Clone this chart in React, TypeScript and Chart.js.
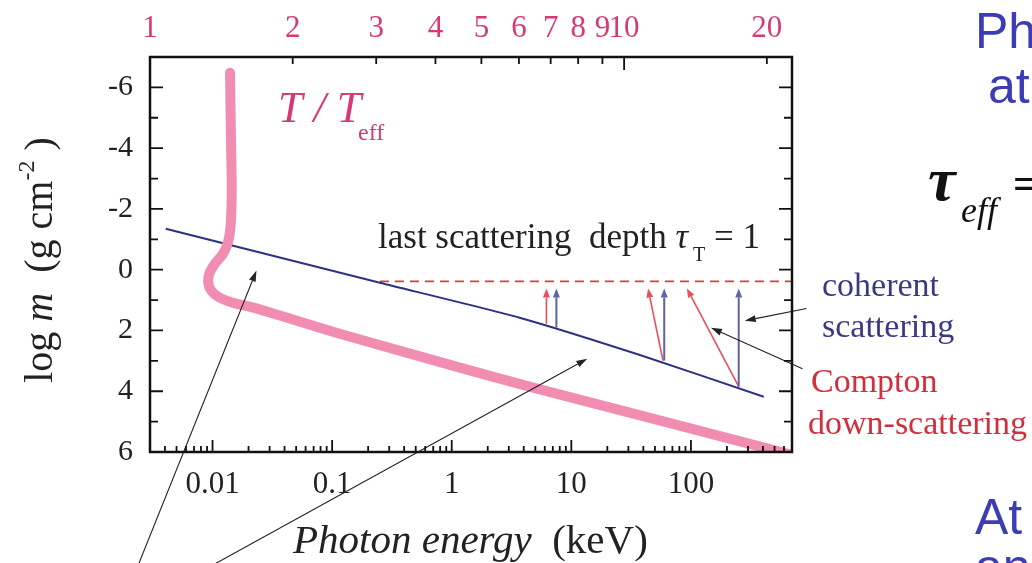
import { useEffect, useRef } from 'react';
import { Chart, registerables } from 'chart.js';

Chart.register(...registerables);

// ---- data ----
const energyTickValues = [0.01, 0.1, 1, 10, 100];
const energyTickLabels = ['0.01', '0.1', '1', '10', '100'];
const tempTickValues = [1, 2, 3, 4, 5, 6, 7, 8, 9, 10, 20];
const tempTickLabels = ['1', '2', '3', '4', '5', '6', '7', '8', '9', '10', '20'];
const depthTickValues = [-6, -4, -2, 0, 2, 4, 6];
const depthTickLabels = ['-6', '-4', '-2', '0', '2', '4', '6'];

// T/Teff profile (top axis) vs log m
const tempRatio = [1.475, 1.482, 1.487, 1.48, 1.463, 1.427, 1.371, 1.334, 1.327, 1.345, 1.395, 1.49, 1.652, 1.88, 2.43, 3.66, 6.43, 13.1, 22.9];
const tempLogM = [-6.48, -4.24, -2.6, -1.51, -0.95, -0.53, -0.2, 0.13, 0.43, 0.68, 0.9, 1.08, 1.25, 1.51, 2.04, 2.83, 3.88, 5.13, 6.12];

// last scattering depth (tau_T = 1)
const scatterEnergy = [0.00406, 0.251, 3.69, 36.9, 406];
const scatterLogM = [-1.35, 0.43, 1.58, 2.8, 4.18];

// dashed level
const levelEnergy = [0.251, 700];
const levelLogM = [0.385, 0.385];

// scattering arrows
const arrowKind = ['compton', 'coherent', 'compton', 'coherent', 'compton', 'coherent'];
const arrowFromE = [6.19, 7.5, 58.4, 59.8, 251, 251];
const arrowFromM = [1.78, 1.91, 2.99, 2.99, 3.85, 3.85];
const arrowToE = [6.19, 7.5, 43.8, 59.8, 92.6, 251];
const arrowToM = [0.62, 0.62, 0.62, 0.62, 0.62, 0.62];

// pointer lines (annotation arrows)
const pointerFromE = [0.00242, 0.0106, 926, 857];
const pointerFromM = [9.67, 9.67, 1.28, 3.26];
const pointerToE = [0.0233, 13.6, 282, 147];
const pointerToM = [0.03, 2.93, 1.68, 1.91];

const SERIF = '"Liberation Serif", "Times New Roman", serif';
const SANS = '"Liberation Sans", Arial, sans-serif';
const PINK = '#f28db2';
const MAGENTA = '#d63a75';
const NAVY = '#2e3180';

type Run = { t: string; font: string; dy?: number; color?: string };

function drawRuns(ctx: CanvasRenderingContext2D, runs: Run[], x: number, y: number, align: 'left' | 'center', color: string) {
  let w = 0;
  for (const r of runs) {
    ctx.font = r.font;
    w += ctx.measureText(r.t).width;
  }
  let cx = align === 'center' ? x - w / 2 : x;
  ctx.textAlign = 'left';
  ctx.textBaseline = 'alphabetic';
  for (const r of runs) {
    ctx.font = r.font;
    ctx.fillStyle = r.color || color;
    ctx.fillText(r.t, cx, y + (r.dy || 0));
    cx += ctx.measureText(r.t).width;
  }
}

function arrowLine(ctx: CanvasRenderingContext2D, x0: number, y0: number, x1: number, y1: number, color: string, width: number, head: number, headW: number) {
  const ang = Math.atan2(y1 - y0, x1 - x0);
  const bx = x1 - Math.cos(ang) * head;
  const by = y1 - Math.sin(ang) * head;
  ctx.strokeStyle = color;
  ctx.lineWidth = width;
  ctx.beginPath();
  ctx.moveTo(x0, y0);
  ctx.lineTo(bx, by);
  ctx.stroke();
  ctx.fillStyle = color;
  ctx.beginPath();
  ctx.moveTo(x1, y1);
  ctx.lineTo(bx + Math.sin(ang) * headW, by - Math.cos(ang) * headW);
  ctx.lineTo(bx - Math.sin(ang) * headW, by + Math.cos(ang) * headW);
  ctx.closePath();
  ctx.fill();
}

const decorPlugin = {
  id: 'decor',
  afterDatasetsDraw(chart: any) {
    const { ctx, chartArea: a, scales } = chart;
    const xs = scales.x;
    const xt = scales.xTop;
    const ys = scales.y;
    ctx.save();
    // scattering arrows
    for (let i = 0; i < arrowKind.length; i++) {
      const x0 = xs.getPixelForValue(arrowFromE[i]);
      const y0 = ys.getPixelForValue(arrowFromM[i]);
      const x1 = xs.getPixelForValue(arrowToE[i]);
      const y1 = ys.getPixelForValue(arrowToM[i]);
      if (arrowKind[i] === 'compton') arrowLine(ctx, x0, y0, x1, y1, '#e6505c', 1.6, 9, 3.5);
      else arrowLine(ctx, x0, y0, x1, y1, '#5f62a8', 2, 9, 3.5);
    }
    // pointers
    for (let i = 0; i < pointerFromE.length; i++) {
      const x0 = xs.getPixelForValue(pointerFromE[i]);
      const y0 = ys.getPixelForValue(pointerFromM[i]);
      const x1 = xs.getPixelForValue(pointerToE[i]);
      const y1 = ys.getPixelForValue(pointerToM[i]);
      arrowLine(ctx, x0, y0, x1, y1, '#222', 1.1, 11, 3.5);
    }
    // frame
    ctx.strokeStyle = '#111';
    ctx.lineWidth = 2.5;
    ctx.strokeRect(a.left, a.top, a.right - a.left, a.bottom - a.top);
    // inward ticks
    ctx.lineWidth = 1.8;
    ctx.beginPath();
    for (let e = -3; e <= 2; e++) {
      for (let k = 1; k <= 9; k++) {
        const v = k * Math.pow(10, e);
        if (v < xs.min || v > xs.max) continue;
        const px = xs.getPixelForValue(v);
        const len = k === 1 ? 12 : 6;
        ctx.moveTo(px, a.bottom);
        ctx.lineTo(px, a.bottom - len);
      }
    }
    for (const v of tempTickValues) {
      const px = xt.getPixelForValue(v);
      const len = v === 1 || v === 10 ? 13 : 7;
      ctx.moveTo(px, a.top);
      ctx.lineTo(px, a.top + len);
    }
    for (let v = -7; v <= 6; v++) {
      const py = ys.getPixelForValue(v);
      const len = v % 2 === 0 ? 13 : 8;
      ctx.moveTo(a.left, py);
      ctx.lineTo(a.left + len, py);
      ctx.moveTo(a.right, py);
      ctx.lineTo(a.right - len, py);
    }
    ctx.stroke();

    // texts inside plot
    drawRuns(ctx, [{ t: 'T / T', font: `italic 44px ${SERIF}` }], 278, 122, 'left', MAGENTA);
    drawRuns(ctx, [{ t: 'eff', font: `24px ${SERIF}` }], 358, 140, 'left', MAGENTA);
    drawRuns(ctx, [
      { t: 'last scattering  depth ', font: `35px ${SERIF}` },
      { t: 'τ', font: `italic 35px ${SERIF}` },
      { t: ' ', font: `20px ${SERIF}` },
      { t: 'T', font: `20px ${SERIF}`, dy: 13 },
      { t: ' = 1', font: `35px ${SERIF}` },
    ], 378, 248, 'left', '#222');

    // right side labels
    drawRuns(ctx, [{ t: 'coherent', font: `34px ${SERIF}` }], 822, 296, 'left', '#3a3a82');
    drawRuns(ctx, [{ t: 'scattering', font: `34px ${SERIF}` }], 822, 337, 'left', '#3a3a82');
    drawRuns(ctx, [{ t: 'Compton', font: `34px ${SERIF}` }], 811, 392, 'left', '#d0303c');
    drawRuns(ctx, [{ t: 'down-scattering', font: `34px ${SERIF}` }], 808, 434, 'left', '#d0303c');

    // axis titles
    drawRuns(ctx, [
      { t: 'Photon energy', font: `italic 41px ${SERIF}` },
      { t: '  (keV)', font: `41px ${SERIF}` },
    ], 293, 553, 'left', '#222');
    ctx.save();
    ctx.translate(52, 260);
    ctx.rotate(-Math.PI / 2);
    drawRuns(ctx, [
      { t: 'log ', font: `40px ${SERIF}` },
      { t: 'm', font: `italic 40px ${SERIF}` },
      { t: '  (g cm', font: `40px ${SERIF}` },
      { t: '-2', font: `24px ${SERIF}`, dy: -18 },
      { t: ' )', font: `40px ${SERIF}` },
    ], 0, 0, 'center', '#222');
    ctx.restore();

    // slide text on right
    drawRuns(ctx, [{ t: 'Ph', font: `50px ${SANS}` }], 975, 48, 'left', '#3c3cb4');
    drawRuns(ctx, [{ t: 'at', font: `50px ${SANS}` }], 988, 103, 'left', '#3c3cb4');
    drawRuns(ctx, [{ t: 'At', font: `50px ${SANS}` }], 975, 534, 'left', '#3c3cb4');
    drawRuns(ctx, [{ t: 'an', font: `50px ${SANS}` }], 975, 584, 'left', '#3c3cb4');
    drawRuns(ctx, [{ t: 'τ', font: `bold italic 62px ${SERIF}` }], 928, 200, 'left', '#111');
    drawRuns(ctx, [{ t: 'eff', font: `italic 36px ${SERIF}` }], 961, 222, 'left', '#111');
    drawRuns(ctx, [{ t: '=', font: `bold 44px ${SERIF}` }], 1013, 198, 'left', '#111');
    ctx.restore();
  },
};

export default function App() {
  const ref = useRef<HTMLCanvasElement | null>(null);
  useEffect(() => {
    const canvas = ref.current;
    if (!canvas) return;
    const chart = new Chart(canvas, {
      type: 'line',
      data: {
        datasets: [
          {
            label: 'T/Teff',
            data: tempRatio.map((t, i) => ({ x: t, y: tempLogM[i] })),
            xAxisID: 'xTop',
            yAxisID: 'y',
            borderColor: PINK,
            borderWidth: 10,
            pointRadius: 0,
            tension: 0.35,
            borderCapStyle: 'round',
            borderJoinStyle: 'round',
          },
          {
            label: 'last scattering',
            data: scatterEnergy.map((e, i) => ({ x: e, y: scatterLogM[i] })),
            xAxisID: 'x',
            yAxisID: 'y',
            borderColor: NAVY,
            borderWidth: 2,
            pointRadius: 0,
            tension: 0.2,
          },
          {
            label: 'level',
            data: levelEnergy.map((e, i) => ({ x: e, y: levelLogM[i] })),
            xAxisID: 'x',
            yAxisID: 'y',
            borderColor: '#e23b3b',
            borderWidth: 1.8,
            borderDash: [9, 6],
            pointRadius: 0,
          },
        ],
      },
      options: {
        animation: false,
        responsive: false,
        layout: { padding: { left: 0, right: 240, top: 0, bottom: 0 } },
        plugins: { legend: { display: false }, tooltip: { enabled: false } },
        scales: {
          x: {
            type: 'logarithmic',
            position: 'bottom',
            min: 0.003,
            max: 700,
            grid: { display: false },
            border: { display: false },
            afterBuildTicks: (s: any) => { s.ticks = energyTickValues.map((v) => ({ value: v })); },
            afterFit: (s: any) => { s.height = 111; },
            ticks: {
              autoSkip: false,
              maxRotation: 0,
              minRotation: 0,
              padding: 6,
              color: '#222',
              font: { family: SERIF, size: 31 },
              callback: (v: any) => {
                const i = energyTickValues.indexOf(Number(v));
                return i >= 0 ? energyTickLabels[i] : '';
              },
            },
          },
          xTop: {
            type: 'logarithmic',
            position: 'top',
            min: 1,
            max: 22.6,
            grid: { display: false },
            border: { display: false },
            afterBuildTicks: (s: any) => { s.ticks = tempTickValues.map((v) => ({ value: v })); },
            afterFit: (s: any) => { s.height = 57; },
            ticks: {
              autoSkip: false,
              maxRotation: 0,
              minRotation: 0,
              padding: 2,
              color: MAGENTA,
              font: { family: SERIF, size: 31 },
              callback: (v: any) => {
                const i = tempTickValues.indexOf(Number(v));
                return i >= 0 ? tempTickLabels[i] : '';
              },
            },
          },
          y: {
            type: 'linear',
            position: 'left',
            min: -7,
            max: 6,
            reverse: true,
            grid: { display: false },
            border: { display: false },
            afterBuildTicks: (s: any) => { s.ticks = depthTickValues.map((v) => ({ value: v })); },
            afterFit: (s: any) => { s.width = 150; },
            ticks: {
              autoSkip: false,
              padding: 9,
              color: '#222',
              font: { family: SERIF, size: 30 },
              callback: (v: any) => {
                const i = depthTickValues.indexOf(Number(v));
                return i >= 0 ? depthTickLabels[i] : '';
              },
            },
          },
        },
      },
      plugins: [decorPlugin],
    } as any);
    return () => chart.destroy();
  }, []);
  return (
    <div style={{ position: 'absolute', left: 0, top: 0, width: 1032, height: 563, background: '#fff' }}>
      <canvas ref={ref} width={1032} height={563} style={{ display: 'block' }} />
    </div>
  );
}
